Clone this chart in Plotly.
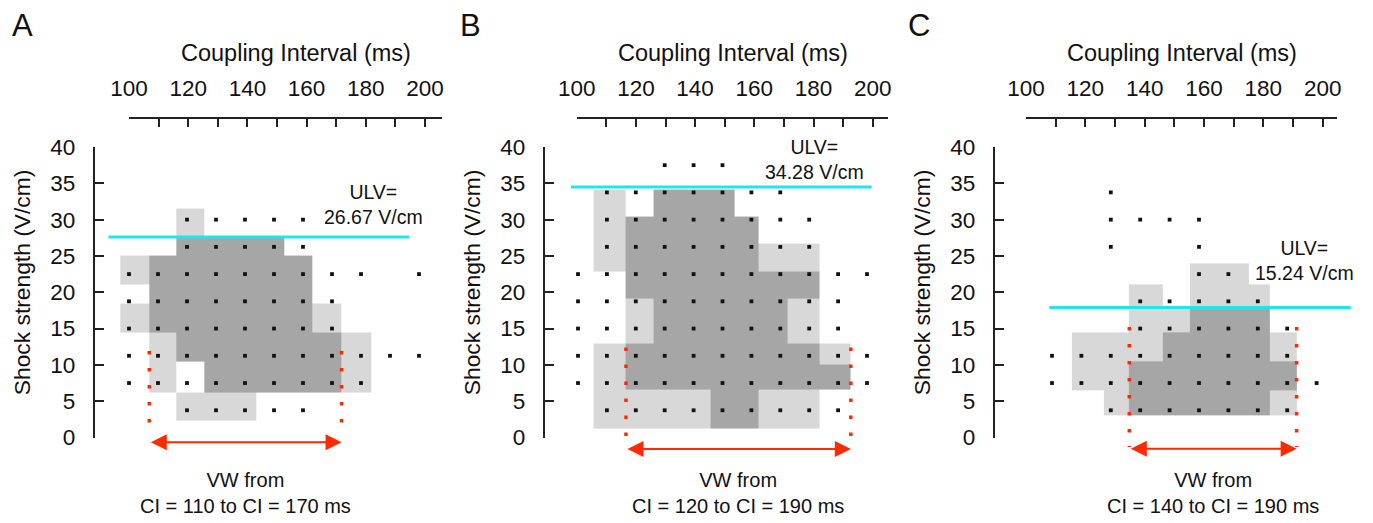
import plotly.graph_objects as go

# ---------------- data ----------------
panel_letters = ["A", "B", "C"]
ci_values = [100, 110, 120, 130, 140, 150, 160, 170, 180, 190, 200]          # coupling interval (ms)
shock_levels = [3.75, 7.5, 11.25, 15.0, 18.75, 22.5, 26.25, 30.0, 33.75, 37.5]  # V/cm

# 0 = not tested, 1 = tested (no VF), 2 = VF sometimes (light), 3 = VF (dark); rows bottom -> top
status_A = [
    [0, 0, 2, 2, 2, 1, 1, 0, 0, 0, 0],
    [1, 2, 1, 3, 3, 3, 3, 3, 2, 0, 0],
    [1, 2, 3, 3, 3, 3, 3, 3, 2, 1, 1],
    [2, 3, 3, 3, 3, 3, 3, 2, 0, 0, 0],
    [1, 3, 3, 3, 3, 3, 3, 1, 0, 0, 0],
    [2, 3, 3, 3, 3, 3, 3, 1, 1, 0, 1],
    [0, 0, 3, 3, 3, 3, 1, 0, 0, 0, 0],
    [0, 0, 2, 1, 1, 1, 1, 0, 0, 0, 0],
    [0, 0, 0, 0, 0, 0, 0, 0, 0, 0, 0],
    [0, 0, 0, 0, 0, 0, 0, 0, 0, 0, 0],
]
status_B = [
    [0, 2, 2, 2, 2, 3, 3, 2, 2, 1, 0],
    [1, 2, 3, 3, 3, 3, 3, 3, 3, 3, 1],
    [1, 2, 3, 3, 3, 3, 3, 3, 3, 2, 1],
    [1, 1, 2, 3, 3, 3, 3, 3, 2, 1, 0],
    [1, 1, 2, 3, 3, 3, 3, 3, 2, 1, 0],
    [1, 1, 3, 3, 3, 3, 3, 3, 3, 1, 1],
    [0, 2, 3, 3, 3, 3, 3, 2, 2, 0, 0],
    [0, 2, 3, 3, 3, 3, 3, 1, 1, 0, 0],
    [0, 2, 1, 3, 3, 3, 1, 1, 0, 0, 0],
    [0, 0, 0, 1, 1, 1, 0, 0, 0, 0, 0],
]
status_C = [
    [0, 0, 0, 2, 3, 3, 3, 3, 3, 2, 0],
    [0, 1, 2, 2, 3, 3, 3, 3, 3, 3, 1],
    [0, 1, 2, 2, 2, 3, 3, 3, 3, 2, 0],
    [0, 0, 0, 0, 2, 2, 3, 3, 3, 1, 0],
    [0, 0, 0, 0, 2, 1, 2, 2, 2, 0, 0],
    [0, 0, 0, 0, 0, 0, 2, 2, 0, 0, 0],
    [0, 0, 0, 1, 0, 0, 1, 0, 0, 0, 0],
    [0, 0, 0, 1, 1, 1, 1, 0, 0, 0, 0],
    [0, 0, 0, 1, 0, 0, 0, 0, 0, 0, 0],
    [0, 0, 0, 0, 0, 0, 0, 0, 0, 0, 0],
]
statuses = [status_A, status_B, status_C]

# cell boundaries (ms / V/cm)
ci_edges_A = [97, 107, 116.2, 126, 135, 144, 153.4, 163.3, 173.3, 183.7, 193.7, 203.7]
ci_edges_B = [95, 105.5, 116.6, 126, 136, 146, 154.3, 162.6, 172.4, 183.7, 194.4, 204]
ci_edges_C = [96, 106.5, 116.7, 127.5, 136.3, 147.6, 156.8, 166.8, 176.8, 184.1, 193.2, 203]
shock_edges_A = [2.4, 6.25, 10.4, 14.5, 18.5, 21.1, 25.1, 27.7, 31.5, 35.3, 39.1]
shock_edges_B = [1.2, 6.6, 10.0, 13.0, 16.2, 19.2, 22.8, 26.65, 30.4, 34.2, 38.0]
shock_edges_C = [3.0, 6.5, 10.5, 14.5, 18.1, 21.1, 24.0, 28.0, 31.9, 35.6, 39.4]
ci_edges = [ci_edges_A, ci_edges_B, ci_edges_C]
shock_edges = [shock_edges_A, shock_edges_B, shock_edges_C]

ulv_text = ["26.67", "34.28", "15.24"]            # V/cm (label)
ulv_line_level = [27.6, 34.5, 17.9]               # drawn line level
ulv_line_from = [92.9, 97.6, 109.1]               # ms
ulv_line_to = [196.6, 201.6, 211.6]               # ms
vw_start = [110, 120, 140]
vw_end = [170, 190, 190]
vw_marker_top = [11.9, 12.4, 15.2]
vw_marker_bottom = [0.3, -1.45, -1.3]
vw_arrow_level = [-0.66, -1.6, -1.55]

tick_vals = [100, 110, 120, 130, 140, 150, 160, 170, 180, 190, 200]
tick_text = ["100", "", "120", "", "140", "", "160", "", "180", "", "200"]
shock_ticks = [0, 5, 10, 15, 20, 25, 30, 35, 40]

# ---------------- layout geometry (pixels of the 1373x523 page) ----------------
W, H = 1373, 523
FONT = "Liberation Sans, Arial, Helvetica, sans-serif"
LIGHT, DARK = "#d8d8d8", "#a6a6a6"
CYAN, RED, AXC = "#1ee6ef", "#ff2a00", "#222222"
TXT = "#111111"

Y0_PX, Y40_PX = 437.5, 147.0
PX_PER_V = (Y0_PX - Y40_PX) / 40.0
TOP_AXIS_PX = 117.7

geo = [
    dict(yaxis_px=93.5, dot100=129.0, dot_scale=2.90, tick100=129.0, tick_scale=2.96, axis_end=442.0,
         dom=(0, 450), letter=(23, 25), xtitle=296, ytitle=21.7, ulv=(373, 204.5)),
    dict(yaxis_px=543.5, dot100=578.0, dot_scale=2.89, tick100=576.7, tick_scale=2.96, axis_end=888.0,
         dom=(450, 900), letter=(470, 25), xtitle=732.5, ytitle=471.7, ulv=(814.3, 160)),
    dict(yaxis_px=993.5, dot100=1022.6, dot_scale=2.94, tick100=1026.0, tick_scale=2.967, axis_end=1337.0,
         dom=(900, 1373), letter=(919, 25), xtitle=1181.7, ytitle=921.7, ulv=(1304, 260.5)),
]


def px_x(px):
    return px / W


def px_y(py):
    return 1 - py / H


fig = go.Figure()
layout = dict(
    width=W, height=H, margin=dict(l=0, r=0, t=0, b=0, pad=0, autoexpand=False),
    paper_bgcolor="white", plot_bgcolor="rgba(0,0,0,0)", showlegend=False,
    font=dict(family=FONT, size=21, color=TXT),
)
# shared invisible data y axis
layout["yaxis"] = dict(domain=[0, 1], range=[(Y0_PX - H) / PX_PER_V, Y0_PX / PX_PER_V],
                       visible=False, fixedrange=True, automargin=False)
annotations = []

for p in range(3):
    g = geo[p]
    xd = "x" if p == 0 else f"x{p + 1}"
    xdisp = f"x{p + 4}"
    ydisp = f"y{p + 2}"
    d0, d1 = g["dom"]
    layout[f"xaxis{'' if p == 0 else p + 1}"] = dict(
        domain=[px_x(d0), px_x(d1)],
        range=[100 + (d0 - g["dot100"]) / g["dot_scale"], 100 + (d1 - g["dot100"]) / g["dot_scale"]],
        anchor="y", visible=False, fixedrange=True, automargin=False)
    layout[f"xaxis{p + 4}"] = dict(
        domain=[px_x(g["tick100"]), px_x(g["axis_end"])],
        range=[100, 100 + (g["axis_end"] - g["tick100"]) / g["tick_scale"]],
        anchor="free", position=px_y(TOP_AXIS_PX), side="top",
        tickmode="array", tickvals=tick_vals, ticktext=tick_text,
        ticks="inside", ticklen=9, tickwidth=1.5, tickcolor=AXC,
        showline=True, linecolor=AXC, linewidth=1.5, mirror=False,
        showgrid=False, zeroline=False, ticklabelstandoff=12, automargin=False,
        tickfont=dict(size=22.5, family=FONT, color=TXT), fixedrange=True)
    layout[f"yaxis{p + 2}"] = dict(
        domain=[px_y(Y0_PX), px_y(Y40_PX)], range=[0, 40],
        anchor="free", position=px_x(g["yaxis_px"]), side="left",
        tickmode="array", tickvals=shock_ticks,
        ticks="inside", ticklen=10, tickwidth=1.5, tickcolor=AXC,
        showline=True, linecolor=AXC, linewidth=1.5,
        showgrid=False, zeroline=False, ticklabelstandoff=13, automargin=False,
        tickfont=dict(size=22.5, family=FONT, color=TXT), fixedrange=True)

    # invisible trace so that the display axes are drawn
    fig.add_trace(go.Scatter(x=[150], y=[20], xaxis=xdisp, yaxis=ydisp, mode="markers",
                             marker=dict(opacity=0), hoverinfo="skip"))

    st = statuses[p]
    z = [[(1 if s == 2 else 2 if s == 3 else None) for s in row] for row in st]
    fig.add_trace(go.Heatmap(
        x=ci_edges[p], y=shock_edges[p], z=z, xaxis=xd, yaxis="y",
        zmin=1, zmax=2, showscale=False, hoverinfo="skip",
        colorscale=[[0, LIGHT], [0.5, LIGHT], [0.5, DARK], [1, DARK]]))

    # ULV line
    fig.add_trace(go.Scatter(
        x=[ulv_line_from[p], ulv_line_to[p]], y=[ulv_line_level[p]] * 2,
        xaxis=xd, yaxis="y", mode="lines", line=dict(color=CYAN, width=3), hoverinfo="skip"))

    # tested points
    dx, dy = [], []
    for r, lvl in enumerate(shock_levels):
        for c, ci in enumerate(ci_values):
            if st[r][c] >= 1:
                dx.append(ci)
                dy.append(lvl)
    fig.add_trace(go.Scatter(x=dx, y=dy, xaxis=xd, yaxis="y", mode="markers",
                             marker=dict(symbol="square", size=3.8, color=TXT, line=dict(width=0)),
                             hoverinfo="skip"))

    # vulnerable window markers
    e = ci_edges[p]
    x_left = e[ci_values.index(vw_start[p])]
    x_right = e[ci_values.index(vw_end[p]) + 1]
    for xv in (x_left, x_right):
        fig.add_trace(go.Scatter(
            x=[xv, xv], y=[vw_marker_top[p], vw_marker_bottom[p]], xaxis=xd, yaxis="y",
            mode="lines", line=dict(color=RED, width=3.5, dash="3.5px,13.5px"), hoverinfo="skip"))
    annotations.append(dict(
        x=x_right, y=vw_arrow_level[p], ax=x_left, ay=vw_arrow_level[p],
        xref=xd, yref="y", axref=xd, ayref="y", text="", showarrow=True,
        arrowhead=2, arrowside="end+start", arrowsize=1.6, arrowwidth=2,
        arrowcolor=RED, standoff=0, startstandoff=0))
    annotations.append(dict(
        x=(x_left + x_right) / 2, y=px_y(493), xref=xd, yref="paper",
        text=f"VW from<br>CI = {vw_start[p]} to CI = {vw_end[p]} ms",
        showarrow=False, xanchor="center", yanchor="middle", align="center",
        font=dict(size=20, family=FONT, color=TXT)))

    # texts
    annotations.append(dict(x=px_x(g["letter"][0]), y=px_y(g["letter"][1]), xref="paper", yref="paper",
                            text=panel_letters[p], showarrow=False, xanchor="center", yanchor="middle",
                            font=dict(size=31, family=FONT, color=TXT)))
    annotations.append(dict(x=px_x(g["xtitle"]), y=px_y(53), xref="paper", yref="paper",
                            text="Coupling Interval (ms)", showarrow=False, xanchor="center",
                            yanchor="middle", font=dict(size=23.5, family=FONT, color=TXT)))
    annotations.append(dict(x=px_x(g["ytitle"]), y=px_y(282.5), xref="paper", yref="paper",
                            text="Shock strength (V/cm)", showarrow=False, textangle=-90,
                            xanchor="center", yanchor="middle",
                            font=dict(size=22.8, family=FONT, color=TXT)))
    annotations.append(dict(x=px_x(g["ulv"][0]), y=px_y(g["ulv"][1]), xref="paper", yref="paper",
                            text=f"ULV=<br>{ulv_text[p]} V/cm", showarrow=False, xanchor="center",
                            yanchor="middle", align="center",
                            font=dict(size=19.5, family=FONT, color=TXT)))

layout["annotations"] = annotations
fig.update_layout(**layout)
fig.write_html(
    "out.html",
    config={"displayModeBar": False},
    post_script="document.body.style.margin='0px';document.documentElement.style.overflow='hidden';",
)
